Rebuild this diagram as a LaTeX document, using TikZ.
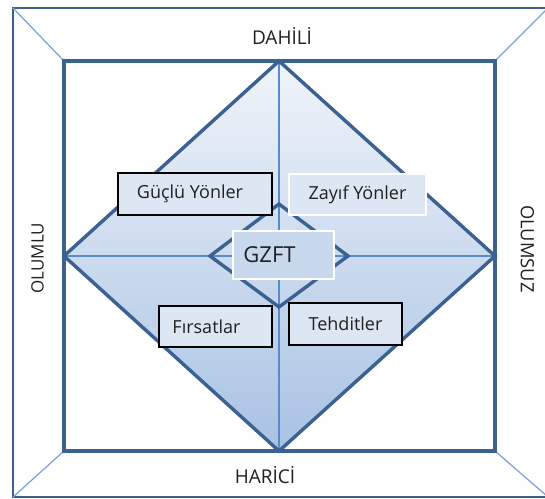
\documentclass[tikz,border=0pt]{standalone}
\usepackage{fontspec}
\newfontfamily\osans{Open Sans}
\definecolor{darkb}{RGB}{59,96,146}
\definecolor{thinb}{RGB}{88,138,204}
\definecolor{cornb}{RGB}{120,162,218}
\definecolor{dtop}{RGB}{240,244,250}
\definecolor{dbot}{RGB}{168,194,227}
\definecolor{boxf}{RGB}{221,231,243}
\definecolor{gzf}{RGB}{200,217,238}
\definecolor{txt}{RGB}{32,32,32}
\tikzset{
  frame/.style={draw=darkb, line width=3.4pt},
  thin/.style={draw=thinb, line width=1.2pt},
  corner/.style={draw=cornb, line width=1.2pt},
  lbl/.style={font=\osans\fontsize{19}{22}\selectfont, text=txt, inner sep=0pt},
  sidelbl/.style={font=\osans\fontsize{17}{20}\selectfont, text=txt, inner sep=0pt},
  boxk/.style={draw=black, line width=1.2pt, fill=boxf, font=\osans\fontsize{18}{21}\selectfont, text=txt, inner sep=0pt},
  boxw/.style={draw=white, line width=1.2pt, fill=boxf, font=\osans\fontsize{18}{21}\selectfont, text=txt, inner sep=0pt},
}
\begin{document}
\begin{tikzpicture}[x=1pt,y=-1pt]
\useasboundingbox (0,0) rectangle (545,498);
\fill[white] (0,0) rectangle (545,498);
% outer frame
\coordinate (o1) at (13,8);
\coordinate (o2) at (548,8);
\coordinate (o3) at (548,497);
\coordinate (o4) at (13,497);
\coordinate (i1) at (64,61);
\coordinate (i2) at (495,61);
\coordinate (i3) at (495,451);
\coordinate (i4) at (64,451);
\begin{scope}
\clip (0,0) rectangle (545,498);
\draw[draw=darkb, line width=2.8pt] (o1) rectangle (o3);
\end{scope}
\draw[corner] (o1) -- (i1);
\draw[corner] (o2) -- (i2);
\draw[corner] (o3) -- (i3);
\draw[corner] (o4) -- (i4);
% diamond
\coordinate (dt) at (279,61);
\coordinate (dr) at (495,256);
\coordinate (db) at (279,451);
\coordinate (dl) at (64,256);
\path[top color=dtop, bottom color=dbot] (dt) -- (dr) -- (db) -- (dl) -- cycle;
\draw[thin] (dl) -- (dr);
\draw[thin] (dt) -- (db);
\draw[frame, line join=miter] (dt) -- (dr) -- (db) -- (dl) -- cycle;
\draw[frame] (i1) rectangle (i3);
% small diamond
\coordinate (st) at (279,204);
\coordinate (sr) at (348,256);
\coordinate (sb) at (279,307);
\coordinate (sl) at (210,256);
\draw[frame, line join=miter] (st) -- (sr) -- (sb) -- (sl) -- cycle;
% labels
\node[lbl] (dahili) at (282,36) {DAHİLİ};
\node[lbl] (harici) at (265,475) {HARİCİ};
\node[sidelbl, rotate=90] (olumlu) at (37.5,258) {OLUMLU};
\node[sidelbl, rotate=-90, font=\osans\fontsize{18.3}{21}\selectfont] (olumsuz) at (527.5,249) {OLUMSUZ};
% boxes
\node[boxk, minimum width=154pt, minimum height=42pt] (g) at (195,194) {\hspace*{-5pt}Güçlü Yönler\hspace*{5pt}};
\node[boxw, minimum width=137pt, minimum height=41pt] (z) at (357.5,194.5) {Zayıf Yönler};
\node[boxw, fill=gzf, minimum width=101pt, minimum height=48pt, font=\osans\fontsize{22}{26}\selectfont] (gzft) at (283.5,255) {\hspace*{-14pt}GZFT\hspace*{14pt}};
\node[boxk, minimum width=113pt, minimum height=41pt] (f) at (215.5,326.5) {\hspace*{-9pt}Fırsatlar\hspace*{9pt}};
\node[boxk, minimum width=113pt, minimum height=42pt] (t) at (345.5,324) {Tehditler};
\end{tikzpicture}
\end{document}
